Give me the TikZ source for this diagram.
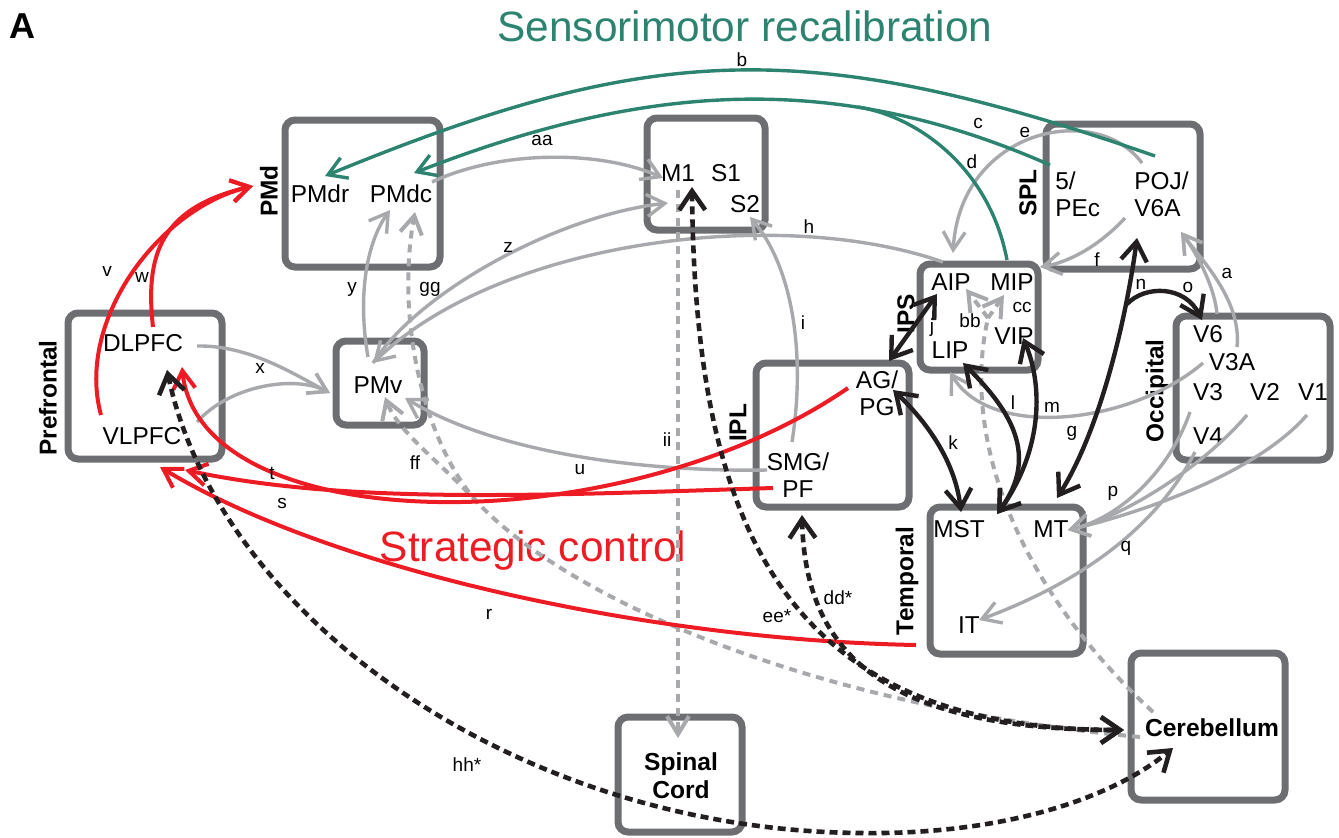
\documentclass[tikz,border=0pt]{standalone}
\usepackage{fontspec}
\setmainfont{Liberation Sans}
\usetikzlibrary{arrows.meta,calc,fit}

\definecolor{boxgray}{RGB}{109,110,113}
\definecolor{lgray}{RGB}{167,169,172}
\definecolor{ink}{RGB}{35,31,32}
\definecolor{recalc}{RGB}{43,131,112}
\definecolor{stratc}{RGB}{237,28,36}

\tikzset{
  gtip/.tip={Straight Barb[length=9pt,width=11pt]},
  ktip/.tip={Straight Barb[length=9.5pt,width=13pt]}
}

\begin{document}
\begin{tikzpicture}[x=0.5pt, y=-0.5pt,
  lobebox/.style={draw=boxgray, line width=3.5pt, rounded corners=5pt, inner sep=0pt},
  reg/.style={font=\fontsize{12.2}{13.5}\selectfont, inner sep=1pt, align=center},
  regb/.style={reg, font=\fontsize{12.3}{14}\selectfont\bfseries},
  lobe/.style={font=\fontsize{12.2}{13.5}\selectfont\bfseries, rotate=90, inner sep=1pt},
  tag/.style={font=\fontsize{9.5}{11}\selectfont, inner sep=0pt},
  gry/.style={draw=lgray, line width=1.7pt},
  gryd/.style={draw=lgray, line width=2pt, dash pattern=on 4pt off 3pt},
  blk/.style={draw=ink, line width=2.2pt},
  blkd/.style={draw=ink, line width=2.3pt, dash pattern=on 4pt off 2.5pt},
  recal/.style={draw=recalc, line width=1.7pt},
  strt/.style={draw=stratc, line width=2pt}
]
\useasboundingbox (0,0) rectangle (1339,837);

% lobes
\node[lobebox, fit={(285,120)(440,267)}] (PMdbox) {};
\node[lobebox, fit={(647,118)(765,230)}] (M1box) {};
\node[lobebox, fit={(1046,124)(1200,269)}] (SPLbox) {};
\node[lobebox, fit={(920,264)(1038,370)}] (IPSbox) {};
\node[lobebox, fit={(1176,316)(1330,460)}] (Occbox) {};
\node[lobebox, fit={(68,313)(222,459)}] (PFCbox) {};
\node[lobebox, fit={(336,341)(424,425)}] (PMvbox) {};
\node[lobebox, fit={(756,363)(909,507)}] (IPLbox) {};
\node[lobebox, fit={(930,507)(1083,654)}] (Tempbox) {};
\node[lobebox, fit={(1131,653)(1285,800)}] (Cerbox) {};
\node[lobebox, fit={(618,717)(742,832)}] (SCbox) {};

\node[lobe] (pmdl) at (269,191) {PMd};
\node[lobe] (spll) at (1028,193) {SPL};
\node[lobe] (ipsl) at (906,314) {IPS};
\node[lobe] (occl) at (1157,391) {Occipital};
\node[lobe] (prel) at (48,398) {Prefrontal};
\node[lobe] (ipll) at (738,423) {IPL};
\node[lobe] (tmpl) at (907,581) {Temporal};

% areas
\node[reg] (pmdr) at (320,194) {PMdr};
\node[reg] (pmdc) at (401,194) {PMdc};
\node[reg] (m1) at (678,173) {M1};
\node[reg] (s1) at (726,173) {S1};
\node[reg] (s2) at (745,204) {S2};
\node[reg, anchor=west, align=left] (pec) at (1053,194) {5/\\PEc};
\node[reg, anchor=west, align=left] (poj) at (1132,194) {POJ/\\V6A};
\node[reg] (aip) at (951,282) {AIP};
\node[reg] (mip) at (1012,282) {MIP};
\node[reg] (vip) at (1014,336) {VIP};
\node[reg] (lip) at (950,350) {LIP};
\node[reg] (v6) at (1208,334) {V6};
\node[reg] (v3a) at (1232,362) {V3A};
\node[reg] (v3) at (1208,392) {V3};
\node[reg] (v2) at (1265,392) {V2};
\node[reg] (v1) at (1313,392) {V1};
\node[reg] (v4) at (1208,436) {V4};
\node[reg] (dlpfc) at (143,343) {DLPFC};
\node[reg] (vlpfc) at (142,436) {VLPFC};
\node[reg] (pmv) at (378,385) {PMv};
\node[reg] (agpg) at (877,393) {AG/\\PG};
\node[reg] (smgpf) at (798,475) {SMG/\\PF};
\node[reg] (mst) at (959,529) {MST};
\node[reg] (mt) at (1051,529) {MT};
\node[reg] (it) at (969,625) {IT};
\node[regb] (cereb) at (1212,728) {Cerebellum};
\node[regb] (spinal) at (681,776) {Spinal\\Cord};

\node[font=\fontsize{18}{20}\selectfont\bfseries] (panel) at (22,26) {A};
\node[font=\fontsize{21.2}{25}\selectfont, text=recalc] (recaltitle) at (745,26) {Sensorimotor recalibration};
\node[font=\fontsize{21.2}{25}\selectfont, text=stratc] (strattitle) at (533,551) {Strategic control};

% gray pathways
\draw[gry, -{gtip}] ($(v6)+(9,-20)$) .. controls (1215,290) and (1200,258) .. ($(poj.west)+(49,38)$);
\draw[gry, -{gtip}] ($(v3a)+(5,-15)$) .. controls (1242,300) and (1200,258) .. ($(poj.west)+(49,38)$);
\draw[gry, -{gtip}] ($(poj.west)+(10,-31)$) .. controls (1095,100) and (960,130) .. ($(aip)+(2,-29)$);
\draw[gry, -{gtip}] ($(poj.west)+(-7,24)$) .. controls (1100,245) and (1070,262) .. ($(mip)+(28,-15)$);
\draw[gry, -{gtip}] ($(v3a)+(-29,1)$) .. controls (1130,425) and (990,440) .. ($(lip)+(0,22)$);
\draw[gry, -{gtip}] ($(aip)+(-8,-20)$) .. controls (780,205) and (500,240) .. ($(pmv)+(-5,-22)$);
\draw[gry, -{gtip}] ($(pmv)+(-5,-22)$) .. controls (420,290) and (560,215) .. ($(m1)+(-10,30)$);
\draw[gry, -{gtip}] ($(pmv)+(-10,-28)$) .. controls (358,300) and (365,245) .. ($(pmdc)+(-11,16)$);
\draw[gry, -{gtip}] ($(pmdc)+(31,-12)$) .. controls (500,150) and (600,150) .. ($(m1)+(-15,5)$);
\draw[gry, -{gtip}] ($(smgpf)+(-6,-33)$) .. controls (805,360) and (795,270) .. ($(s2)+(5,13)$);
\draw[gry, -{gtip}] ($(smgpf)+(-31,-5)$) .. controls (650,472) and (500,455) .. ($(pmv)+(27,13)$);
\draw[gry, -{gtip}] ($(dlpfc)+(54,3)$) .. controls (250,345) and (295,375) .. ($(pmv)+(-48,8)$);
\draw[gry, -{gtip}] ($(vlpfc)+(55,-14)$) .. controls (230,385) and (295,375) .. ($(pmv)+(-48,8)$);
\draw[gry, -{gtip}] ($(v3)+(-18,20)$) .. controls (1170,470) and (1120,518) .. ($(mt)+(17,1)$);
\draw[gry, -{gtip}] ($(v2)+(-18,23)$) .. controls (1200,470) and (1120,518) .. ($(mt)+(17,1)$);
\draw[gry, -{gtip}] ($(v1)+(-6,23)$) .. controls (1250,480) and (1120,518) .. ($(mt)+(17,1)$);
\draw[gry, -{gtip}] ($(v4)+(-13,16)$) .. controls (1150,540) and (1060,590) .. ($(it)+(10,-5)$);

% cerebellar / spinal (dashed)
\coordinate (pmfork) at (478,503);
\draw[gryd] ($(cereb)+(-72,9)$) .. controls (800,705) and (565,595) .. (pmfork);
\draw[gryd, -{gtip}] (pmfork) .. controls (440,462) and (398,432) .. ($(pmv)+(7,12)$);
\draw[gryd, -{gtip}] (pmfork) .. controls (425,445) and (395,320) .. ($(pmdc)+(14,18)$);
\coordinate (ipsfork) at (988,318);
\draw[gryd] ($(cereb)+(-59,-16)$) .. controls (1020,590) and (960,440) .. (ipsfork);
\draw[gryd, -{gtip}] (ipsfork) -- ($(aip)+(15,7)$);
\draw[gryd, -{gtip}] (ipsfork) -- ($(mip)+(-8,13)$);
\draw[gryd, -{gtip}] ($(m1)+(0,17)$) -- ($(spinal)+(-3,-38)$);

% sensorimotor recalibration
\draw[recal, -{gtip}] ($(poj.west)+(23,-38)$) .. controls (805,34) and (649,43) .. ($(pmdr)+(5,-18)$);
\draw[recal, -{gtip}] ($(pec.west)+(-3,-29)$) .. controls (830,68) and (640,85) .. ($(pmdc)+(13,-21)$);
\coordinate (cjoin) at (858,107);
\draw[recal] ($(mip)+(-5,-22)$) .. controls (990,170) and (920,117) .. (cjoin);

% strategic control
\draw[strt, -{gtip}] ($(vlpfc)+(-41,-21)$) .. controls (75,320) and (160,208) .. ($(pmdr)+(-67,-8)$);
\draw[strt, -{gtip}] ($(dlpfc)+(10,-16)$) .. controls (145,255) and (160,208) .. ($(pmdr)+(-67,-8)$);
\draw[strt, -{gtip}] ($(agpg)+(-29,-5)$) .. controls (620,545) and (200,540) .. ($(dlpfc)+(39,24)$);
\draw[strt, -{gtip}] ($(smgpf)+(-25,13)$) .. controls (550,495) and (350,505) .. ($(vlpfc)+(43,34)$);
\draw[strt, -{gtip}] ($(it)+(-53,20)$) .. controls (650,640) and (330,570) .. ($(vlpfc)+(18,31)$);

% dorsal stream (black)
\draw[blk, {ktip}-{ktip}] ($(aip)+(-14,12)$) -- ($(agpg)+(12,-32)$);
\draw[blk, {ktip}-{ktip}] ($(agpg)+(16,-3)$) .. controls (925,420) and (955,460) .. ($(mst)+(2,-17)$);
\draw[blk, {ktip}-{ktip}] ($(mst)+(38,-15)$) .. controls (1040,455) and (1010,410) .. ($(lip)+(13,13)$);
\draw[blk, {ktip}-{ktip}] ($(mst)+(38,-15)$) .. controls (1040,455) and (1045,390) .. ($(vip)+(9,2)$);
\draw[blk, {ktip}-{ktip}] ($(mt)+(6,-31)$) .. controls (1100,430) and (1126,320) .. ($(poj.west)+(5,44)$);
\coordinate (nfork) at (1127,304);
\draw[blk, -{ktip}] (nfork) .. controls (1145,285) and (1185,285) .. ($(v6)+(-6,-14)$);

\draw[blkd, {ktip}-{ktip}] ($(m1)+(14,14)$) .. controls (695,520) and (780,730) .. ($(cereb)+(-88,2)$);
\draw[blkd, {ktip}-{ktip}] ($(smgpf)+(4,40)$) .. controls (805,650) and (880,730) .. ($(cereb)+(-88,2)$);
\draw[blkd, {ktip}-{ktip}] ($(dlpfc)+(24,27)$) .. controls (220,620) and (520,830) .. (860,833)
  .. controls (1000,835) and (1110,800) .. ($(cereb)+(-39,20)$);

% pathway letters
\foreach \n/\t/\x/\y in {a/a/1227/273, b/b/742/60, c/c/978/123, d/d/972/162,
    e/e/1025/132, f/f/1097/260, g/g/1072/433, h/h/809/227, i/i/803/323,
    j/j/932/328, k/k/953/443, l/l/1013/403, m/m/1052/407, n/n/1141/284,
    o/o/1188/287, p/p/1113/493, q/q/1126/548, r/r/489/614, s/s/282/503,
    t/t/272/473, u/u/580/470, v/v/107/271, w/w/142/277, x/x/260/368,
    y/y/352/289, z/z/508/247, aa/aa/542/140, bb/bb/970/321, cc/cc/1022/307,
    dd/dd*/838/598, ee/ee*/777/616, ff/ff/415/463, gg/gg/430/289,
    hh/hh*/467/765, ii/ii/667/440}
  \node[tag] (lab\n) at (\x,\y) {\t};
\end{tikzpicture}
\end{document}
